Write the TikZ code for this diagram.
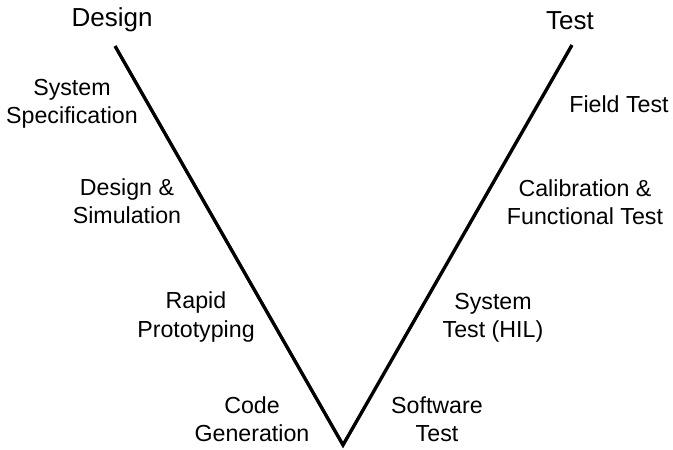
\documentclass[tikz,border=0pt]{standalone}
\usepackage{fontspec}
\setmainfont{Liberation Sans}
\usetikzlibrary{positioning}

\begin{document}
\begin{tikzpicture}[x=0.025cm, y=-0.025cm,
    phase/.style={align=center, inner sep=0pt, font=\fontsize{16.5}{20}\selectfont},
    head/.style={inner sep=0pt, font=\fontsize{18.5}{22}\selectfont}]
      \useasboundingbox (0,0) rectangle (673,449);
      \coordinate (dtop) at (115,46);
      \coordinate (vbot) at (343,445);
      \coordinate (ttop) at (572,45);
      \draw[line width=2.4pt] (dtop) -- (vbot) -- (ttop);
      \node[head] (design) at (112,20) {Design};
      \node[head] (test) at (570,21) {Test};
      % design side
      \node[phase] (spec) at (72,104) {System\\Specification};
      \node[phase] (sim) at (127,201) {Design \&\\Simulation};
      \node[phase] (rapid) at (196,317) {Rapid\\Prototyping};
      \node[phase] (code) at (252,419) {Code\\Generation};
      % test side
      \node[phase] (field) at (619,104) {Field Test};
      \node[phase] (calib) at (585,202) {Calibration \&\\Functional Test};
      \node[phase] (hil) at (493,318) {System\\Test (HIL)};
      \node[phase] (soft) at (437,419) {Software\\Test};
    \end{tikzpicture}
\end{document}
